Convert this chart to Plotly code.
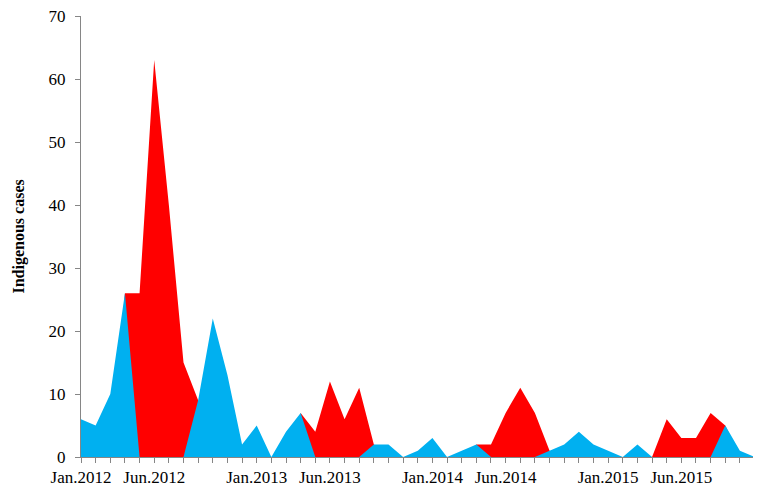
import plotly.graph_objects as go

months = list(range(47))  # Jan.2012 .. Nov.2015
red_cases = [0, 0, 0, 26, 26, 63, 40, 15, 9, 0, 0, 0,
             0, 0, 0, 7, 4, 12, 6, 11, 2, 0, 0, 0,
             0, 0, 0, 2, 2, 7, 11, 7, 1, 0, 0, 0,
             0, 0, 0, 0, 6, 3, 3, 7, 5, 0, 0]
blue_cases = [6, 5, 10, 26, 0, 0, 0, 0, 9, 22, 13, 2,
              5, 0, 4, 7, 0, 0, 0, 0, 2, 2, 0, 1,
              3, 0, 1, 2, 0, 0, 0, 0, 1, 2, 4, 2,
              1, 0, 2, 0, 0, 0, 0, 0, 5, 1, 0]
tick_pos = [0, 5, 12, 17, 24, 29, 36, 41]
tick_labels = ["Jan.2012", "Jun.2012", "Jan.2013", "Jun.2013",
               "Jan.2014", "Jun.2014", "Jan.2015", "Jun.2015"]

fig = go.Figure()
fig.add_trace(go.Scatter(x=months, y=red_cases, mode="lines", fill="tozeroy",
                         line=dict(width=0, color="#FF0000"), fillcolor="#FF0000",
                         showlegend=False, hoverinfo="skip"))
fig.add_trace(go.Scatter(x=months, y=blue_cases, mode="lines", fill="tozeroy",
                         line=dict(width=0, color="#00B0F0"), fillcolor="#00B0F0",
                         showlegend=False, hoverinfo="skip"))

ff = "Liberation Serif"
font = dict(family=ff, size=17, color="#000000")
# page has an 8px body margin; figure is sized/offset to compensate
W, H = 753, 480
L, T, B = 73, 8, 31
fig.update_layout(
    width=W, height=H,
    margin=dict(l=L, r=0, t=T, b=B, autoexpand=False),
    paper_bgcolor="white", plot_bgcolor="white",
    font=font,
    xaxis=dict(range=[0, 46.44], tickmode="array", tickvals=tick_pos, ticktext=tick_labels,
               automargin=False, ticklabeloverflow="allow",
               showline=True, linecolor="#868686", linewidth=1, showgrid=False, zeroline=False,
               ticks="outside", ticklen=5, tickcolor="#868686", tickfont=font, ticklabelstandoff=0,
               minor=dict(dtick=1, tick0=0, ticks="outside", ticklen=5, tickcolor="#868686", showgrid=False)),
    yaxis=dict(range=[0, 70], tickmode="linear", tick0=0, dtick=10, automargin=False,
               ticklabeloverflow="allow",
               showline=True, linecolor="#868686", linewidth=1, showgrid=False, zeroline=False,
               ticks="outside", ticklen=5, tickcolor="#868686", tickfont=font, ticklabelstandoff=6),
    annotations=[dict(text="<b>Indigenous cases</b>", textangle=-90,
                      xref="paper", yref="paper", x=(10 - L) / (W - L), y=0.5,
                      xanchor="center", yanchor="middle", showarrow=False,
                      font=dict(family=ff, size=16, color="#000000"))],
)
fig.write_html("out.html")
